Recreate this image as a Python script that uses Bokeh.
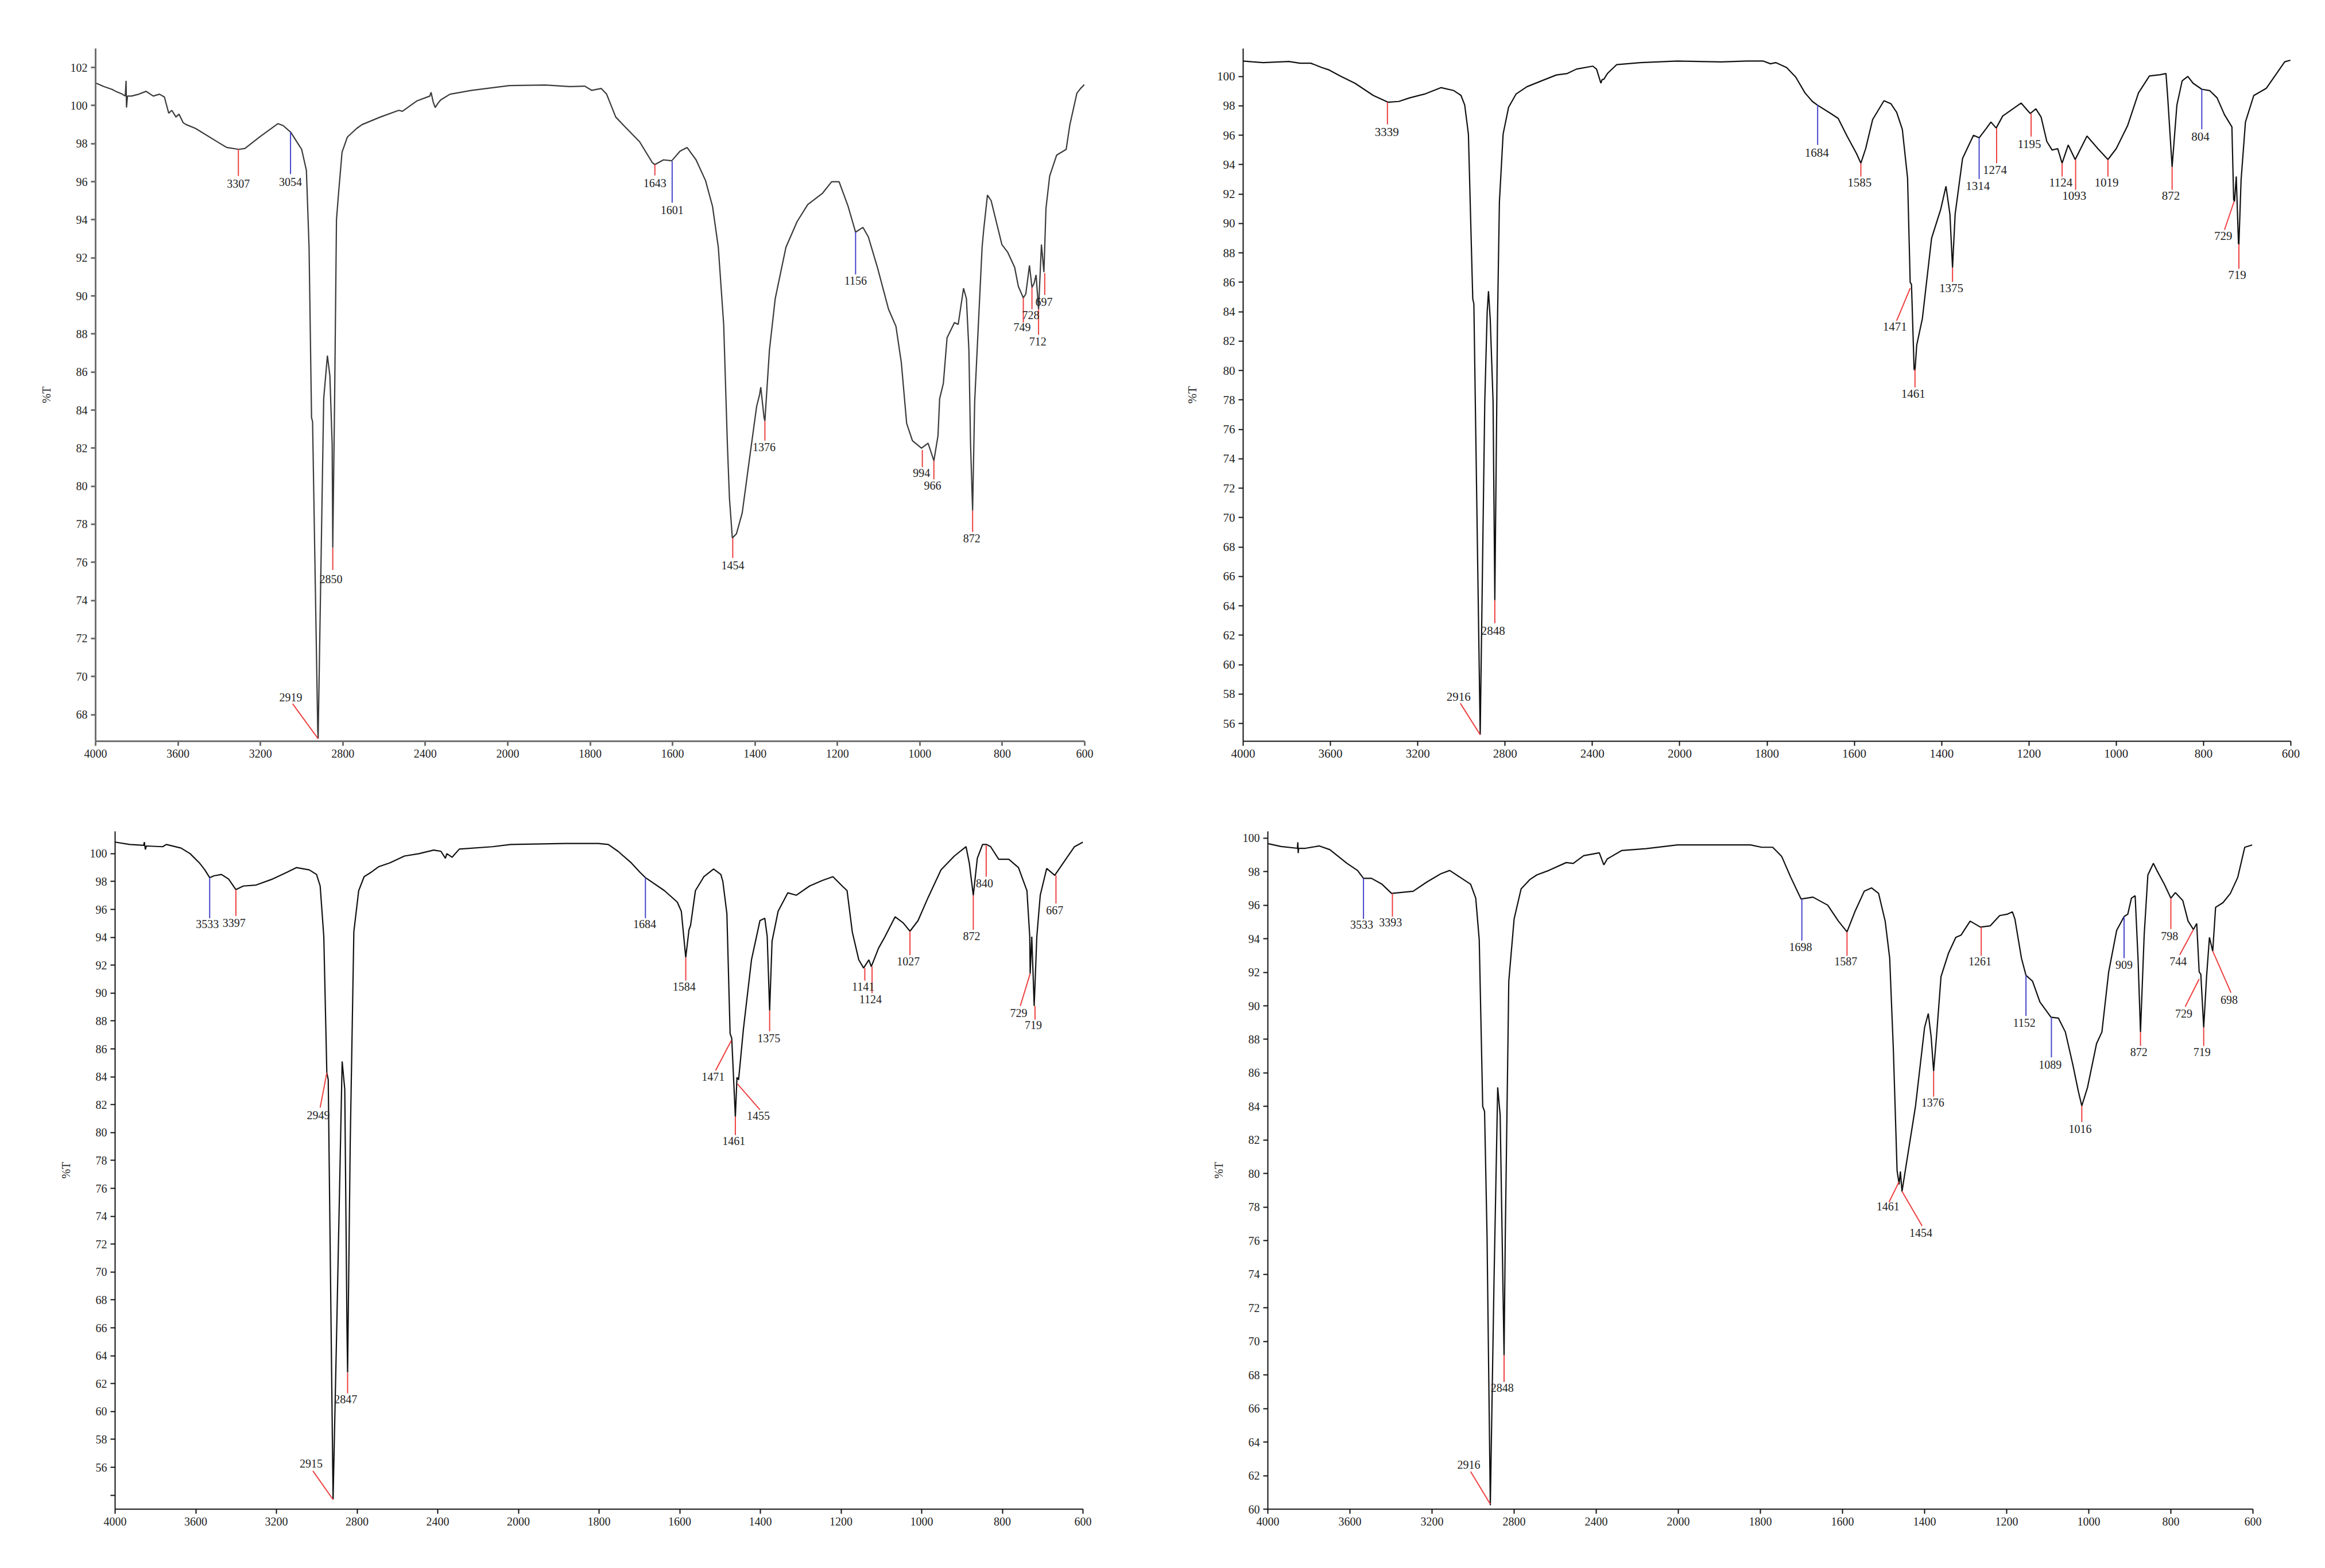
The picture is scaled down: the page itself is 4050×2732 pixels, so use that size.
import numpy as np
from bokeh.plotting import figure
from bokeh.layouts import column, row
from bokeh.models import Range1d, FixedTicker, ColumnDataSource
from bokeh.embed import file_html
from bokeh.resources import INLINE
from bokeh.core.properties import value

FONT = "Liberation Serif"
RED = "#ee4040"
BLUE = "#4646cc"

X_TICKS = [4000, 3600, 3200, 2800, 2400, 2000, 1800, 1600, 1400, 1200, 1000, 800, 600]
Y1_TICKS = list(range(68, 103, 2))
Y2_TICKS = list(range(56, 101, 2))
Y3_TICKS = list(range(54, 101, 2))
Y4_TICKS = list(range(60, 101, 2))

# (wavenumber cm-1, %T)
P1_SPECTRUM = [
    (4000, 101.19), (3960, 101.0), (3920, 100.85), (3897, 100.72), (3870, 100.6), (3856, 100.5),
    (3852, 101.3), (3850, 99.9), (3845, 100.5), (3826, 100.5), (3790, 100.6), (3755, 100.75),
    (3720, 100.5), (3690, 100.6), (3666, 100.45), (3655, 100.0), (3645, 99.6), (3630, 99.75),
    (3610, 99.4), (3595, 99.55), (3575, 99.1), (3560, 99.0), (3515, 98.8), (3417, 98.15),
    (3364, 97.8), (3305, 97.7), (3275, 97.75), (3204, 98.35), (3115, 99.05), (3090, 98.95),
    (3053, 98.6), (3000, 97.7), (2977, 96.6), (2964, 92.55), (2952, 83.6), (2947, 83.4),
    (2922, 67.2), (2920, 66.73), (2893, 84.6), (2875, 86.86), (2863, 85.8), (2852, 82.2),
    (2849, 76.76), (2840, 84.6), (2831, 94.0), (2822, 95.25), (2804, 97.55), (2778, 98.35),
    (2733, 98.8), (2707, 99.0), (2618, 99.4), (2529, 99.75), (2511, 99.7), (2440, 100.25),
    (2378, 100.5), (2372, 100.7), (2362, 100.2), (2352, 99.9), (2340, 100.1), (2325, 100.3),
    (2280, 100.6), (2174, 100.8), (1996, 101.05), (1909, 101.08), (1849, 101.0), (1813, 101.02),
    (1796, 100.8), (1773, 100.9), (1760, 100.6), (1738, 99.4), (1716, 98.9), (1680, 98.1),
    (1649, 97.0), (1643, 96.9), (1622, 97.15), (1602, 97.1), (1582, 97.6), (1565, 97.8),
    (1543, 97.15), (1520, 96.06), (1503, 94.7), (1489, 92.55), (1476, 88.5), (1467, 82.2),
    (1462, 79.37), (1455, 77.28), (1445, 77.5), (1431, 78.6), (1414, 81.34), (1396, 84.2),
    (1389, 84.8), (1386, 85.2), (1378, 83.6), (1376, 83.43), (1365, 87.15), (1351, 89.85),
    (1338, 91.2), (1325, 92.55), (1298, 93.9), (1272, 94.8), (1236, 95.4), (1214, 96.0),
    (1196, 96.0), (1174, 94.7), (1156, 93.35), (1138, 93.6), (1125, 93.1), (1103, 91.5),
    (1076, 89.3), (1058, 88.4), (1045, 86.5), (1032, 83.3), (1018, 82.39), (996, 82.0),
    (980, 82.26), (966, 81.34), (956, 82.65), (952, 84.6), (943, 85.4), (934, 87.8),
    (916, 88.6), (907, 88.5), (894, 90.4), (887, 89.85), (881, 87.15), (877, 82.2),
    (872, 78.72), (867, 84.45), (849, 92.55), (845, 93.5), (836, 95.3), (827, 95.0),
    (818, 94.2), (801, 92.7), (787, 92.3), (770, 91.5), (761, 90.5), (749, 89.9),
    (743, 90.1), (734, 91.6), (728, 90.45), (723, 90.65), (718, 91.1), (712, 89.3),
    (705, 92.7), (699, 91.25), (694, 94.6), (685, 96.3), (668, 97.4), (645, 97.7),
    (636, 99.0), (619, 100.65), (610, 100.9), (601, 101.1),
]

P2_SPECTRUM = [
    (4000, 101.05), (3960, 101.0), (3908, 100.94), (3850, 100.98), (3790, 101.02), (3740, 100.9),
    (3690, 100.9), (3639, 100.6), (3606, 100.44), (3555, 100.03), (3488, 99.54), (3404, 98.71),
    (3337, 98.25), (3287, 98.3), (3236, 98.55), (3169, 98.8), (3094, 99.24), (3035, 99.04),
    (3002, 98.71), (2985, 98.06), (2968, 96.08), (2951, 86.5), (2948, 84.87), (2943, 84.54),
    (2914, 55.24), (2893, 77.9), (2882, 84.0), (2876, 85.4), (2868, 83.5), (2855, 77.9),
    (2847, 64.39), (2838, 77.9), (2835, 83.2), (2826, 91.46), (2809, 96.08), (2784, 97.9),
    (2750, 98.8), (2700, 99.3), (2633, 99.7), (2565, 100.1), (2515, 100.2), (2473, 100.5),
    (2398, 100.7), (2381, 100.5), (2361, 99.54), (2355, 99.8), (2348, 99.8), (2331, 100.2),
    (2289, 100.8), (2180, 100.94), (2012, 101.05), (1905, 100.99), (1847, 101.05), (1809, 101.05),
    (1792, 100.86), (1780, 100.94), (1755, 100.6), (1734, 99.95), (1713, 98.88), (1696, 98.3),
    (1685, 98.06), (1654, 97.48), (1637, 97.15), (1616, 95.91), (1595, 94.76), (1585, 94.1),
    (1574, 95.09), (1558, 97.07), (1532, 98.35), (1516, 98.14), (1503, 97.56), (1490, 96.4),
    (1478, 93.1), (1472, 86.0), (1469, 85.86), (1463, 80.09), (1461, 80.0), (1457, 81.74),
    (1444, 83.55), (1423, 89.0), (1402, 90.97), (1390, 92.53), (1381, 90.64), (1375, 87.0),
    (1369, 90.64), (1352, 94.43), (1327, 96.0), (1314, 95.83), (1297, 96.49), (1287, 96.9),
    (1275, 96.49), (1260, 97.31), (1218, 98.19), (1197, 97.48), (1184, 97.8), (1172, 97.23),
    (1159, 95.58), (1147, 95.0), (1134, 95.09), (1124, 94.1), (1110, 95.34), (1094, 94.35),
    (1067, 95.95), (1042, 95.09), (1019, 94.35), (1000, 95.09), (974, 96.65), (949, 98.88),
    (924, 100.03), (899, 100.12), (886, 100.2), (882, 98.55), (872, 93.85), (861, 98.06),
    (849, 99.7), (836, 100.0), (824, 99.54), (804, 99.13), (786, 99.04), (769, 98.55),
    (752, 97.4), (735, 96.57), (731, 91.63), (729, 91.5), (725, 93.2), (720, 88.66),
    (719, 88.58), (714, 92.95), (704, 96.9), (685, 98.7), (656, 99.2), (635, 100.1),
    (614, 101.0), (601, 101.1),
]

P3_SPECTRUM = [
    (4000, 100.83), (3927, 100.66), (3858, 100.6), (3855, 100.83), (3850, 100.3), (3845, 100.55),
    (3764, 100.5), (3746, 100.66), (3673, 100.4), (3628, 100.0), (3582, 99.34), (3555, 98.84),
    (3531, 98.28), (3510, 98.41), (3473, 98.51), (3437, 98.18), (3401, 97.42), (3364, 97.68),
    (3301, 97.75), (3219, 98.18), (3146, 98.68), (3101, 99.0), (3037, 98.84), (3001, 98.51),
    (2983, 97.68), (2965, 94.05), (2950, 84.29), (2943, 83.79), (2934, 72.5), (2919, 53.7),
    (2901, 65.9), (2874, 85.1), (2861, 83.1), (2850, 65.9), (2847, 62.8), (2834, 79.2),
    (2816, 94.4), (2792, 97.35), (2765, 98.35), (2729, 98.68), (2692, 99.07), (2638, 99.34),
    (2565, 99.83), (2493, 100.0), (2420, 100.26), (2384, 100.17), (2362, 99.67), (2355, 100.0),
    (2347, 99.93), (2329, 99.74), (2293, 100.33), (2129, 100.5), (2038, 100.66), (1883, 100.73),
    (1802, 100.73), (1777, 100.66), (1753, 100.17), (1720, 99.34), (1699, 98.68), (1685, 98.28),
    (1638, 97.35), (1606, 96.53), (1596, 95.87), (1585, 92.56), (1577, 94.54), (1573, 94.87),
    (1561, 97.35), (1540, 98.35), (1516, 98.9), (1498, 98.51), (1493, 98.0), (1483, 95.7),
    (1475, 87.1), (1471, 86.77), (1462, 81.14), (1458, 83.96), (1454, 83.79), (1442, 87.43),
    (1422, 92.39), (1401, 95.2), (1389, 95.37), (1383, 94.05), (1377, 88.75), (1371, 93.72),
    (1356, 95.87), (1332, 97.19), (1311, 97.02), (1278, 97.68), (1246, 98.08), (1220, 98.35),
    (1197, 97.68), (1185, 97.35), (1172, 94.38), (1156, 92.39), (1144, 91.8), (1131, 92.39),
    (1125, 91.9), (1107, 93.22), (1091, 94.05), (1066, 95.47), (1046, 95.04), (1029, 94.44),
    (1009, 95.2), (984, 96.86), (952, 98.84), (919, 99.83), (890, 100.5), (882, 99.34),
    (872, 97.02), (862, 99.67), (849, 100.66), (839, 100.66), (829, 100.5), (809, 99.6),
    (784, 99.6), (760, 99.0), (739, 97.35), (732, 94.05), (731, 91.4), (727, 94.05),
    (721, 89.08), (714.5, 94.05), (706, 97.02), (690, 98.94), (670, 98.45), (641, 99.67),
    (621, 100.5), (600, 100.83),
]

P4_SPECTRUM = [
    (4000, 99.67), (3936, 99.5), (3856, 99.39), (3854, 99.75), (3852, 99.1), (3850, 99.39),
    (3817, 99.39), (3749, 99.53), (3698, 99.31), (3656, 98.9), (3614, 98.49), (3563, 98.07),
    (3534, 97.6), (3495, 97.6), (3444, 97.25), (3397, 96.7), (3292, 96.83), (3224, 97.39),
    (3156, 97.88), (3114, 98.07), (3063, 97.66), (3012, 97.25), (2987, 96.42), (2970, 93.94),
    (2953, 84.0), (2944, 83.7), (2932, 76.33), (2916, 60.23), (2898, 73.58), (2880, 85.14),
    (2868, 83.5), (2849, 69.17), (2843, 76.33), (2826, 91.47), (2800, 95.18), (2766, 96.97),
    (2724, 97.52), (2690, 97.8), (2631, 98.07), (2546, 98.54), (2512, 98.49), (2461, 98.95),
    (2385, 99.12), (2363, 98.4), (2346, 98.76), (2326, 98.9), (2275, 99.26), (2157, 99.37),
    (2004, 99.59), (1917, 99.59), (1824, 99.59), (1797, 99.45), (1770, 99.45), (1748, 98.9),
    (1726, 97.66), (1701, 96.37), (1672, 96.48), (1636, 96.0), (1610, 95.05), (1589, 94.41),
    (1570, 95.6), (1547, 96.83), (1529, 97.03), (1512, 96.7), (1496, 95.05), (1485, 92.84),
    (1476, 87.34), (1467, 80.18), (1462, 79.36), (1459, 80.13), (1455, 78.94), (1447, 80.18),
    (1422, 84.04), (1400, 88.71), (1391, 89.54), (1384, 88.16), (1378, 86.1), (1371, 88.16),
    (1360, 91.74), (1342, 93.12), (1324, 94.08), (1311, 94.22), (1289, 95.05), (1264, 94.69),
    (1240, 94.77), (1217, 95.38), (1199, 95.46), (1186, 95.6), (1180, 95.18), (1164, 92.84),
    (1153, 91.82), (1137, 91.47), (1119, 90.23), (1092, 89.32), (1074, 89.27), (1057, 88.44),
    (1039, 86.51), (1025, 84.86), (1017, 84.04), (1003, 85.14), (981, 87.75), (968, 88.44),
    (951.5, 92.02), (932, 94.5), (914, 95.32), (905, 95.46), (896, 96.42), (887, 96.56),
    (880, 92.84), (874, 88.44), (865, 94.22), (856, 97.8), (842.6, 98.49), (834, 98.07),
    (816, 97.25), (800, 96.42), (789, 96.75), (771, 96.28), (758, 95.05), (745, 94.55),
    (737, 94.91), (731, 92.02), (727, 91.88), (720, 88.71), (713, 91.74), (706, 94.08),
    (698, 93.26), (691, 95.87), (673, 96.15), (655, 96.7), (637, 97.66), (620, 99.45),
    (602, 99.59),
]

# peak annotations: (label, r/b, line start wn, %T, line end wn, %T, label wn, %T)
P1_PEAKS = [
    ("3307", "r", 3307, 97.7, 3307, 96.3, 3307, 95.9),
    ("3054", "b", 3054, 98.62, 3054, 96.4, 3054, 96.0),
    ("2919", "r", 2920, 66.73, 3044, 68.57, 3053, 68.92),
    ("2850", "r", 2849, 76.76, 2849, 75.6, 2858, 75.12),
    ("1643", "r", 1643, 96.9, 1643, 96.33, 1643, 95.93),
    ("1601", "b", 1601, 97.07, 1601, 94.9, 1601, 94.5),
    ("1454", "r", 1454, 77.28, 1454, 76.23, 1454, 75.84),
    ("1376", "r", 1376, 83.43, 1376, 82.39, 1378, 82.06),
    ("1156", "b", 1156, 93.36, 1156, 91.13, 1156, 90.8),
    ("994", "r", 994, 81.9, 994, 81.0, 996, 80.69),
    ("966", "r", 966, 81.34, 966, 80.36, 969, 80.03),
    ("872", "r", 872, 78.72, 872, 77.6, 874, 77.25),
    ("749", "r", 749, 89.9, 749, 88.6, 752, 88.35),
    ("728", "r", 728, 90.45, 728, 89.3, 731, 89.0),
    ("712", "r", 712, 89.3, 712, 87.96, 714, 87.6),
    ("697", "r", 697, 91.2, 697, 90.05, 699, 89.7),
]

P2_PEAKS = [
    ("3339", "r", 3339, 98.25, 3339, 96.74, 3342, 96.24),
    ("2916", "r", 2914, 55.24, 3005, 57.38, 3013, 57.83),
    ("2848", "r", 2847, 64.39, 2847, 62.82, 2855, 62.32),
    ("1684", "b", 1684, 98.06, 1684, 95.34, 1686, 94.81),
    ("1585", "r", 1585, 94.1, 1585, 93.19, 1588, 92.78),
    ("1471", "r", 1472, 85.6, 1503, 83.39, 1507, 82.98),
    ("1461", "r", 1461, 80.09, 1461, 78.86, 1465, 78.44),
    ("1375", "r", 1375, 87.0, 1375, 86.03, 1378, 85.61),
    ("1314", "b", 1314, 95.83, 1314, 93.03, 1317, 92.57),
    ("1274", "r", 1274, 96.49, 1274, 94.1, 1278, 93.66),
    ("1195", "r", 1195, 97.48, 1195, 95.91, 1199, 95.42),
    ("1124", "r", 1124, 94.1, 1124, 93.19, 1127, 92.78),
    ("1093", "r", 1093, 94.35, 1093, 92.29, 1096, 91.88),
    ("1019", "r", 1019, 94.35, 1019, 93.19, 1022, 92.78),
    ("872", "r", 872, 93.85, 872, 92.29, 875, 91.88),
    ("804", "b", 804, 99.13, 804, 96.41, 807, 95.91),
    ("729", "r", 730, 91.5, 752, 89.57, 755, 89.16),
    ("719", "r", 719, 88.58, 719, 86.93, 723, 86.52),
]

P3_PEAKS = [
    ("3533", "b", 3531, 98.28, 3531, 95.37, 3542, 94.97),
    ("3397", "r", 3401, 97.42, 3401, 95.53, 3410, 95.04),
    ("2949", "r", 2950, 84.29, 2983, 81.8, 2992, 81.24),
    ("2915", "r", 2919, 53.69, 3019, 55.74, 3028, 56.27),
    ("2847", "r", 2847, 62.79, 2847, 61.3, 2856, 60.9),
    ("1684", "b", 1685, 98.28, 1685, 95.37, 1687, 94.97),
    ("1584", "r", 1585, 92.56, 1585, 90.9, 1589, 90.47),
    ("1471", "r", 1472, 86.6, 1511, 84.45, 1517, 84.0),
    ("1461", "r", 1462, 81.14, 1462, 79.82, 1466, 79.4),
    ("1455", "r", 1457, 83.5, 1401, 81.64, 1405, 81.2),
    ("1375", "r", 1377, 88.75, 1377, 87.26, 1379, 86.77),
    ("1141", "r", 1141, 91.8, 1141, 90.9, 1145, 90.47),
    ("1124", "r", 1123, 91.9, 1123, 90.0, 1127, 89.58),
    ("1027", "r", 1029, 94.44, 1029, 92.72, 1033, 92.29),
    ("872", "r", 872, 97.02, 872, 94.54, 876, 94.11),
    ("840", "r", 840, 100.6, 840, 98.35, 844, 97.88),
    ("667", "r", 667, 98.45, 667, 96.43, 670, 95.96),
    ("729", "r", 731, 91.4, 755.5, 89.08, 759.5, 88.59),
    ("719", "r", 719, 89.08, 719, 88.09, 723, 87.7),
]

P4_PEAKS = [
    ("3533", "b", 3534, 97.6, 3534, 95.18, 3543, 94.83),
    ("3393", "r", 3393, 96.7, 3393, 95.32, 3402, 94.99),
    ("2916", "r", 2916, 60.3, 3012, 62.24, 3021, 62.65),
    ("2848", "r", 2849, 69.17, 2849, 67.58, 2858, 67.24),
    ("1698", "b", 1699, 96.37, 1699, 93.89, 1702, 93.5),
    ("1587", "r", 1589, 94.41, 1589, 92.98, 1592, 92.65),
    ("1461", "r", 1462.5, 79.5, 1486.6, 78.3, 1489, 78.03),
    ("1454", "r", 1455, 78.94, 1406, 76.88, 1409, 76.47),
    ("1376", "r", 1378, 86.1, 1378, 84.59, 1380, 84.23),
    ("1261", "r", 1262, 94.69, 1262, 92.98, 1265, 92.65),
    ("1152", "b", 1153, 91.82, 1153, 89.4, 1157, 88.99),
    ("1089", "b", 1091, 89.32, 1091, 86.93, 1094, 86.51),
    ("1016", "r", 1017, 84.04, 1017, 83.07, 1021, 82.66),
    ("909", "b", 914, 95.32, 914, 92.84, 914, 92.43),
    ("872", "r", 874, 88.44, 874, 87.61, 878, 87.26),
    ("798", "r", 800, 96.42, 800, 94.58, 803, 94.16),
    ("744", "r", 745, 94.55, 778.4, 93.04, 782, 92.65),
    ("729", "r", 731, 91.6, 765, 89.95, 768.6, 89.54),
    ("719", "r", 720, 88.71, 720, 87.61, 724, 87.26),
    ("698", "r", 698, 93.26, 653.5, 90.78, 658, 90.37),
]


def wn_to_u(w):
    """Instrument-style axis: 4000-2000 cm-1 drawn at half scale, below 2000 at full scale."""
    w = np.asarray(w, dtype=float)
    return np.where(w >= 2000, (4000.0 - w) / 2.0, 1000.0 + (2000.0 - w))


def build(spectrum, peaks, y_range, y_ticks, y_blank, size, borders,
          axis_color, axis_width, line_color, font_px):
    width, height = size
    left, right, top, bottom = borders
    p = figure(width=width, height=height,
               x_range=Range1d(0, 2400), y_range=Range1d(*y_range),
               output_backend="svg", toolbar_location=None,
               min_border_left=left, min_border_right=right,
               min_border_top=top, min_border_bottom=bottom)
    p.outline_line_color = None
    p.xgrid.visible = False
    p.ygrid.visible = False
    p.background_fill_color = "white"
    p.border_fill_color = "white"

    wn = [s[0] for s in spectrum]
    tr = [s[1] for s in spectrum]
    p.line(x=wn_to_u(wn), y=tr, line_color=line_color, line_width=2.2)

    seg = ColumnDataSource(dict(
        x0=wn_to_u([a[2] for a in peaks]), y0=[a[3] for a in peaks],
        x1=wn_to_u([a[4] for a in peaks]), y1=[a[5] for a in peaks],
        c=[RED if a[1] == "r" else BLUE for a in peaks]))
    p.segment(x0="x0", y0="y0", x1="x1", y1="y1", source=seg, line_color="c", line_width=2)

    txt = ColumnDataSource(dict(
        x=wn_to_u([a[6] for a in peaks]), y=[a[7] for a in peaks], t=[a[0] for a in peaks]))
    p.text(x="x", y="y", text="t", source=txt, text_font=value(FONT),
           text_font_size=f"{font_px}px", text_align="center", text_baseline="middle",
           text_color="#222222")

    xa = p.xaxis[0]
    tick_u = [float(v) for v in wn_to_u(X_TICKS)]
    xa.ticker = FixedTicker(ticks=tick_u)
    xa.major_label_overrides = {u: str(t) for u, t in zip(tick_u, X_TICKS)}

    ya = p.yaxis[0]
    ya.ticker = FixedTicker(ticks=[float(v) for v in y_ticks])
    if y_blank:
        ya.major_label_overrides = {float(v): "" for v in y_blank}
    ya.axis_label = "%T"
    ya.axis_label_text_font = FONT
    ya.axis_label_text_font_style = "normal"
    ya.axis_label_text_font_size = f"{font_px}px"
    ya.axis_label_text_color = "#222222"
    ya.axis_label_standoff = 28

    for ax in (xa, ya):
        ax.axis_line_color = axis_color
        ax.axis_line_width = axis_width
        ax.major_tick_line_color = axis_color
        ax.major_tick_line_width = axis_width
        ax.major_tick_out = 8
        ax.major_tick_in = 0
        ax.minor_tick_line_color = None
        ax.major_label_text_font = FONT
        ax.major_label_text_font_size = f"{font_px}px"
        ax.major_label_text_color = "#222222"
        ax.major_label_standoff = 6
    return p


p1 = build(P1_SPECTRUM, P1_PEAKS, (66.6, 103.0), Y1_TICKS, [], (1992, 1380), (166, 103, 84, 89),
           "#707070", 3, "#3a3a3a", 20)
p2 = build(P2_SPECTRUM, P2_PEAKS, (54.8, 101.9), Y2_TICKS, [], (2028, 1380), (173, 30, 42, 61),
           "#111111", 2, "#111111", 21)
p3 = build(P3_SPECTRUM, P3_PEAKS, (53.0, 101.6), Y3_TICKS, [54], (1992, 1332), (200, 106, 68, 83),
           "#111111", 2, "#111111", 20)
p4 = build(P4_SPECTRUM, P4_PEAKS, (60.0, 100.4), Y4_TICKS, [], (2028, 1332), (216, 96, 52, 81),
           "#111111", 2, "#111111", 20)

layout = column(row(p1, p2), row(p3, p4))
open("out.html", "w").write(file_html(layout, INLINE))
